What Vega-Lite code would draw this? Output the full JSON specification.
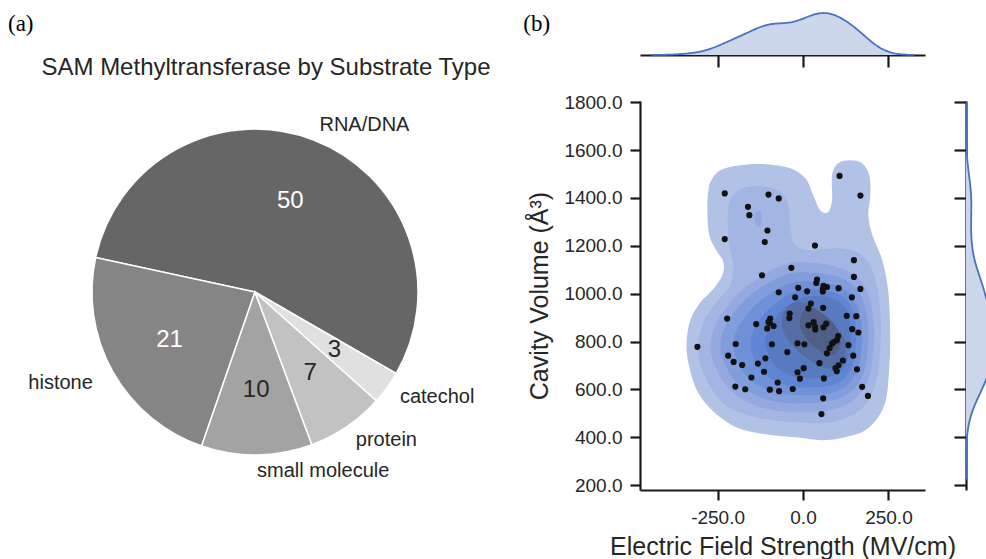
{
  "$schema": "https://vega.github.io/schema/vega-lite/v6.json",
  "background": "white",
  "padding": {"left": 8, "top": 9, "right": 0, "bottom": 0},
  "config": {
    "view": {"stroke": null},
    "font": "Liberation Sans",
    "axis": {"grid": false, "domainColor": "#1a1a1a", "domainWidth": 2.2, "tickColor": "#1a1a1a", "tickWidth": 2.2, "labelColor": "#262626", "titleColor": "#262626", "labelFont": "Liberation Sans", "titleFont": "Liberation Sans", "titleFontWeight": "normal", "labelFontSize": 19, "titleFontSize": 25},
    "title": {"font": "Liberation Sans", "fontWeight": "normal", "color": "#262626"}
  },
  "datasets": {
    "pie": [
      {"substrate": "RNA/DNA", "count": 50},
      {"substrate": "histone", "count": 21},
      {"substrate": "small molecule", "count": 10},
      {"substrate": "protein", "count": 7},
      {"substrate": "catechol", "count": 3}
    ],
    "pts": [
      {"efs": -229, "vol": 1419}, {"efs": -101, "vol": 1414}, {"efs": -71, "vol": 1398}, {"efs": -161, "vol": 1363},
      {"efs": -157, "vol": 1328}, {"efs": 107, "vol": 1492}, {"efs": 168, "vol": 1410}, {"efs": -104, "vol": 1264},
      {"efs": -229, "vol": 1228}, {"efs": -112, "vol": 1216}, {"efs": 35, "vol": 1201}, {"efs": 149, "vol": 1140},
      {"efs": -34, "vol": 1108}, {"efs": -120, "vol": 1077}, {"efs": 149, "vol": 1070}, {"efs": 41, "vol": 1059},
      {"efs": 39, "vol": 1045}, {"efs": 168, "vol": 1020}, {"efs": -14, "vol": 1025}, {"efs": 60, "vol": 1033},
      {"efs": 70, "vol": 1028}, {"efs": 58, "vol": 1009}, {"efs": 104, "vol": 1023}, {"efs": 12, "vol": 1010},
      {"efs": -71, "vol": 1006}, {"efs": -23, "vol": 985}, {"efs": 143, "vol": 985}, {"efs": 23, "vol": 959},
      {"efs": 16, "vol": 938}, {"efs": 59, "vol": 941}, {"efs": -39, "vol": 917}, {"efs": -40, "vol": 898},
      {"efs": 128, "vol": 908}, {"efs": 156, "vol": 906}, {"efs": -222, "vol": 896}, {"efs": -137, "vol": 873},
      {"efs": -96, "vol": 896}, {"efs": -101, "vol": 882}, {"efs": -86, "vol": 865}, {"efs": -105, "vol": 855},
      {"efs": 16, "vol": 868}, {"efs": 31, "vol": 881}, {"efs": 36, "vol": 850}, {"efs": 60, "vol": 860},
      {"efs": 68, "vol": 875}, {"efs": 144, "vol": 852}, {"efs": 162, "vol": 838}, {"efs": 103, "vol": 823},
      {"efs": 99, "vol": 806}, {"efs": 85, "vol": 792}, {"efs": 78, "vol": 773}, {"efs": 70, "vol": 751},
      {"efs": -309, "vol": 778}, {"efs": -197, "vol": 790}, {"efs": -91, "vol": 789}, {"efs": -16, "vol": 793},
      {"efs": 4, "vol": 789}, {"efs": 133, "vol": 785}, {"efs": 147, "vol": 741}, {"efs": -46, "vol": 756},
      {"efs": -219, "vol": 741}, {"efs": -203, "vol": 715}, {"efs": -178, "vol": 702}, {"efs": -110, "vol": 730},
      {"efs": -132, "vol": 708}, {"efs": 48, "vol": 710}, {"efs": 117, "vol": 721}, {"efs": 104, "vol": 701},
      {"efs": 95, "vol": 689}, {"efs": 99, "vol": 676}, {"efs": 2, "vol": 689}, {"efs": -16, "vol": 672},
      {"efs": -9, "vol": 645}, {"efs": -114, "vol": 674}, {"efs": -151, "vol": 650}, {"efs": 158, "vol": 684},
      {"efs": 61, "vol": 646}, {"efs": -74, "vol": 629}, {"efs": -198, "vol": 612}, {"efs": -169, "vol": 601},
      {"efs": -97, "vol": 599}, {"efs": -70, "vol": 593}, {"efs": -30, "vol": 602}, {"efs": 173, "vol": 611},
      {"efs": 190, "vol": 573}, {"efs": 59, "vol": 563}, {"efs": 54, "vol": 497}, {"efs": -97, "vol": 878},
      {"efs": 35, "vol": 862}, {"efs": 90, "vol": 798}, {"efs": 58, "vol": 1020}
    ],
    "contours": [
      {"level": "L1", "part": "a", "i": 1, "efs": -268, "vol": 1474}, {"level": "L1", "part": "a", "i": 2, "efs": -242, "vol": 1516},
      {"level": "L1", "part": "a", "i": 3, "efs": -183, "vol": 1537}, {"level": "L1", "part": "a", "i": 4, "efs": -110, "vol": 1541},
      {"level": "L1", "part": "a", "i": 5, "efs": -37, "vol": 1524}, {"level": "L1", "part": "a", "i": 6, "efs": 7, "vol": 1482},
      {"level": "L1", "part": "a", "i": 7, "efs": 30, "vol": 1411}, {"level": "L1", "part": "a", "i": 8, "efs": 50, "vol": 1349},
      {"level": "L1", "part": "a", "i": 9, "efs": 73, "vol": 1340}, {"level": "L1", "part": "a", "i": 10, "efs": 85, "vol": 1391},
      {"level": "L1", "part": "a", "i": 11, "efs": 85, "vol": 1495}, {"level": "L1", "part": "a", "i": 12, "efs": 103, "vol": 1545},
      {"level": "L1", "part": "a", "i": 13, "efs": 138, "vol": 1558}, {"level": "L1", "part": "a", "i": 14, "efs": 173, "vol": 1545},
      {"level": "L1", "part": "a", "i": 15, "efs": 194, "vol": 1495}, {"level": "L1", "part": "a", "i": 16, "efs": 197, "vol": 1411},
      {"level": "L1", "part": "a", "i": 17, "efs": 191, "vol": 1328}, {"level": "L1", "part": "a", "i": 18, "efs": 203, "vol": 1244},
      {"level": "L1", "part": "a", "i": 19, "efs": 232, "vol": 1140}, {"level": "L1", "part": "a", "i": 20, "efs": 249, "vol": 1015},
      {"level": "L1", "part": "a", "i": 21, "efs": 255, "vol": 847}, {"level": "L1", "part": "a", "i": 22, "efs": 252, "vol": 680},
      {"level": "L1", "part": "a", "i": 23, "efs": 238, "vol": 534}, {"level": "L1", "part": "a", "i": 24, "efs": 191, "vol": 438},
      {"level": "L1", "part": "a", "i": 25, "efs": 123, "vol": 400}, {"level": "L1", "part": "a", "i": 26, "efs": 56, "vol": 388},
      {"level": "L1", "part": "a", "i": 27, "efs": -22, "vol": 400}, {"level": "L1", "part": "a", "i": 28, "efs": -110, "vol": 413},
      {"level": "L1", "part": "a", "i": 29, "efs": -189, "vol": 438}, {"level": "L1", "part": "a", "i": 30, "efs": -257, "vol": 501},
      {"level": "L1", "part": "a", "i": 31, "efs": -306, "vol": 584}, {"level": "L1", "part": "a", "i": 32, "efs": -332, "vol": 689},
      {"level": "L1", "part": "a", "i": 33, "efs": -341, "vol": 785}, {"level": "L1", "part": "a", "i": 34, "efs": -330, "vol": 889},
      {"level": "L1", "part": "a", "i": 35, "efs": -300, "vol": 964}, {"level": "L1", "part": "a", "i": 36, "efs": -265, "vol": 1015},
      {"level": "L1", "part": "a", "i": 37, "efs": -236, "vol": 1077}, {"level": "L1", "part": "a", "i": 38, "efs": -233, "vol": 1132},
      {"level": "L1", "part": "a", "i": 39, "efs": -254, "vol": 1182}, {"level": "L1", "part": "a", "i": 40, "efs": -274, "vol": 1244},
      {"level": "L1", "part": "a", "i": 41, "efs": -280, "vol": 1349}, {"level": "L1", "part": "a", "i": 42, "efs": -277, "vol": 1432},
      {"level": "L2", "part": "b", "i": 1, "efs": -218, "vol": 1370}, {"level": "L2", "part": "b", "i": 2, "efs": -189, "vol": 1432},
      {"level": "L2", "part": "b", "i": 3, "efs": -134, "vol": 1449}, {"level": "L2", "part": "b", "i": 4, "efs": -72, "vol": 1432},
      {"level": "L2", "part": "b", "i": 5, "efs": -43, "vol": 1370}, {"level": "L2", "part": "b", "i": 6, "efs": -37, "vol": 1274},
      {"level": "L2", "part": "b", "i": 7, "efs": -22, "vol": 1202}, {"level": "L2", "part": "b", "i": 8, "efs": 21, "vol": 1182},
      {"level": "L2", "part": "b", "i": 9, "efs": 109, "vol": 1190}, {"level": "L2", "part": "b", "i": 10, "efs": 173, "vol": 1161},
      {"level": "L2", "part": "b", "i": 11, "efs": 208, "vol": 1077}, {"level": "L2", "part": "b", "i": 12, "efs": 226, "vol": 931},
      {"level": "L2", "part": "b", "i": 13, "efs": 226, "vol": 764}, {"level": "L2", "part": "b", "i": 14, "efs": 211, "vol": 618},
      {"level": "L2", "part": "b", "i": 15, "efs": 167, "vol": 513}, {"level": "L2", "part": "b", "i": 16, "efs": 80, "vol": 463},
      {"level": "L2", "part": "b", "i": 17, "efs": -22, "vol": 463}, {"level": "L2", "part": "b", "i": 18, "efs": -125, "vol": 480},
      {"level": "L2", "part": "b", "i": 19, "efs": -213, "vol": 521}, {"level": "L2", "part": "b", "i": 20, "efs": -265, "vol": 597},
      {"level": "L2", "part": "b", "i": 21, "efs": -300, "vol": 701}, {"level": "L2", "part": "b", "i": 22, "efs": -306, "vol": 793},
      {"level": "L2", "part": "b", "i": 23, "efs": -286, "vol": 898}, {"level": "L2", "part": "b", "i": 24, "efs": -248, "vol": 973},
      {"level": "L2", "part": "b", "i": 25, "efs": -213, "vol": 1035}, {"level": "L2", "part": "b", "i": 26, "efs": -204, "vol": 1119},
      {"level": "L2", "part": "b", "i": 27, "efs": -218, "vol": 1223},
      {"level": "L3", "part": "c", "i": 1, "efs": -9, "vol": 1131}, {"level": "L3", "part": "c", "i": 2, "efs": 100, "vol": 1112},
      {"level": "L3", "part": "c", "i": 3, "efs": 172, "vol": 1050}, {"level": "L3", "part": "c", "i": 4, "efs": 205, "vol": 912},
      {"level": "L3", "part": "c", "i": 5, "efs": 205, "vol": 743}, {"level": "L3", "part": "c", "i": 6, "efs": 181, "vol": 611},
      {"level": "L3", "part": "c", "i": 7, "efs": 119, "vol": 530}, {"level": "L3", "part": "c", "i": 8, "efs": 15, "vol": 505},
      {"level": "L3", "part": "c", "i": 9, "efs": -104, "vol": 518}, {"level": "L3", "part": "c", "i": 10, "efs": -200, "vol": 580},
      {"level": "L3", "part": "c", "i": 11, "efs": -252, "vol": 680}, {"level": "L3", "part": "c", "i": 12, "efs": -271, "vol": 787},
      {"level": "L3", "part": "c", "i": 13, "efs": -247, "vol": 893}, {"level": "L3", "part": "c", "i": 14, "efs": -195, "vol": 993},
      {"level": "L3", "part": "c", "i": 15, "efs": -128, "vol": 1068}, {"level": "L3", "part": "c", "i": 16, "efs": -71, "vol": 1112},
      {"level": "L3", "part": "d", "i": 1, "efs": -140, "vol": 1340}, {"level": "L3", "part": "d", "i": 2, "efs": -125, "vol": 1345},
      {"level": "L3", "part": "d", "i": 3, "efs": -119, "vol": 1315}, {"level": "L3", "part": "d", "i": 4, "efs": -125, "vol": 1282},
      {"level": "L3", "part": "d", "i": 5, "efs": -137, "vol": 1286}, {"level": "L3", "part": "d", "i": 6, "efs": -142, "vol": 1315},
      {"level": "L4", "part": "e", "i": 1, "efs": -5, "vol": 1090}, {"level": "L4", "part": "e", "i": 2, "efs": 93, "vol": 1074},
      {"level": "L4", "part": "e", "i": 3, "efs": 158, "vol": 1019}, {"level": "L4", "part": "e", "i": 4, "efs": 188, "vol": 898},
      {"level": "L4", "part": "e", "i": 5, "efs": 188, "vol": 750}, {"level": "L4", "part": "e", "i": 6, "efs": 167, "vol": 635},
      {"level": "L4", "part": "e", "i": 7, "efs": 111, "vol": 564}, {"level": "L4", "part": "e", "i": 8, "efs": 16, "vol": 542},
      {"level": "L4", "part": "e", "i": 9, "efs": -92, "vol": 553}, {"level": "L4", "part": "e", "i": 10, "efs": -178, "vol": 608},
      {"level": "L4", "part": "e", "i": 11, "efs": -225, "vol": 695}, {"level": "L4", "part": "e", "i": 12, "efs": -242, "vol": 789},
      {"level": "L4", "part": "e", "i": 13, "efs": -221, "vol": 882}, {"level": "L4", "part": "e", "i": 14, "efs": -173, "vol": 969},
      {"level": "L4", "part": "e", "i": 15, "efs": -113, "vol": 1035}, {"level": "L4", "part": "e", "i": 16, "efs": -61, "vol": 1074},
      {"level": "L5", "part": "f", "i": 1, "efs": 2, "vol": 1052}, {"level": "L5", "part": "f", "i": 2, "efs": 88, "vol": 1038},
      {"level": "L5", "part": "f", "i": 3, "efs": 144, "vol": 990}, {"level": "L5", "part": "f", "i": 4, "efs": 170, "vol": 885},
      {"level": "L5", "part": "f", "i": 5, "efs": 170, "vol": 757}, {"level": "L5", "part": "f", "i": 6, "efs": 151, "vol": 657},
      {"level": "L5", "part": "f", "i": 7, "efs": 103, "vol": 595}, {"level": "L5", "part": "f", "i": 8, "efs": 20, "vol": 576},
      {"level": "L5", "part": "f", "i": 9, "efs": -73, "vol": 586}, {"level": "L5", "part": "f", "i": 10, "efs": -148, "vol": 633},
      {"level": "L5", "part": "f", "i": 11, "efs": -189, "vol": 709}, {"level": "L5", "part": "f", "i": 12, "efs": -204, "vol": 790},
      {"level": "L5", "part": "f", "i": 13, "efs": -185, "vol": 871}, {"level": "L5", "part": "f", "i": 14, "efs": -144, "vol": 947},
      {"level": "L5", "part": "f", "i": 15, "efs": -92, "vol": 1004}, {"level": "L5", "part": "f", "i": 16, "efs": -47, "vol": 1038},
      {"level": "L6", "part": "g", "i": 1, "efs": 15, "vol": 1019}, {"level": "L6", "part": "g", "i": 2, "efs": 86, "vol": 1007},
      {"level": "L6", "part": "g", "i": 3, "efs": 132, "vol": 966}, {"level": "L6", "part": "g", "i": 4, "efs": 153, "vol": 876},
      {"level": "L6", "part": "g", "i": 5, "efs": 153, "vol": 765}, {"level": "L6", "part": "g", "i": 6, "efs": 138, "vol": 679},
      {"level": "L6", "part": "g", "i": 7, "efs": 98, "vol": 625}, {"level": "L6", "part": "g", "i": 8, "efs": 30, "vol": 609},
      {"level": "L6", "part": "g", "i": 9, "efs": -47, "vol": 617}, {"level": "L6", "part": "g", "i": 10, "efs": -108, "vol": 658},
      {"level": "L6", "part": "g", "i": 11, "efs": -142, "vol": 724}, {"level": "L6", "part": "g", "i": 12, "efs": -154, "vol": 794},
      {"level": "L6", "part": "g", "i": 13, "efs": -139, "vol": 863}, {"level": "L6", "part": "g", "i": 14, "efs": -105, "vol": 929},
      {"level": "L6", "part": "g", "i": 15, "efs": -62, "vol": 978}, {"level": "L6", "part": "g", "i": 16, "efs": -25, "vol": 1007},
      {"level": "L7", "part": "h", "i": 1, "efs": 26, "vol": 990}, {"level": "L7", "part": "h", "i": 2, "efs": 83, "vol": 980},
      {"level": "L7", "part": "h", "i": 3, "efs": 121, "vol": 945}, {"level": "L7", "part": "h", "i": 4, "efs": 138, "vol": 870},
      {"level": "L7", "part": "h", "i": 5, "efs": 138, "vol": 777}, {"level": "L7", "part": "h", "i": 6, "efs": 126, "vol": 705},
      {"level": "L7", "part": "h", "i": 7, "efs": 93, "vol": 661}, {"level": "L7", "part": "h", "i": 8, "efs": 39, "vol": 647},
      {"level": "L7", "part": "h", "i": 9, "efs": -23, "vol": 654}, {"level": "L7", "part": "h", "i": 10, "efs": -73, "vol": 688},
      {"level": "L7", "part": "h", "i": 11, "efs": -100, "vol": 743}, {"level": "L7", "part": "h", "i": 12, "efs": -110, "vol": 801},
      {"level": "L7", "part": "h", "i": 13, "efs": -98, "vol": 860}, {"level": "L7", "part": "h", "i": 14, "efs": -70, "vol": 915},
      {"level": "L7", "part": "h", "i": 15, "efs": -36, "vol": 956}, {"level": "L7", "part": "h", "i": 16, "efs": -6, "vol": 980},
      {"level": "L8", "part": "i", "i": 1, "efs": -14, "vol": 964}, {"level": "L8", "part": "i", "i": 2, "efs": 32, "vol": 942},
      {"level": "L8", "part": "i", "i": 3, "efs": 86, "vol": 882}, {"level": "L8", "part": "i", "i": 4, "efs": 123, "vol": 799},
      {"level": "L8", "part": "i", "i": 5, "efs": 114, "vol": 717}, {"level": "L8", "part": "i", "i": 6, "efs": 77, "vol": 689},
      {"level": "L8", "part": "i", "i": 7, "efs": 32, "vol": 711}, {"level": "L8", "part": "i", "i": 8, "efs": -23, "vol": 772},
      {"level": "L8", "part": "i", "i": 9, "efs": -60, "vol": 854}, {"level": "L8", "part": "i", "i": 10, "efs": -51, "vol": 937},
      {"level": "L9", "part": "j", "i": 1, "efs": 21, "vol": 939}, {"level": "L9", "part": "j", "i": 2, "efs": 51, "vol": 923},
      {"level": "L9", "part": "j", "i": 3, "efs": 86, "vol": 880}, {"level": "L9", "part": "j", "i": 4, "efs": 109, "vol": 821},
      {"level": "L9", "part": "j", "i": 5, "efs": 103, "vol": 763}, {"level": "L9", "part": "j", "i": 6, "efs": 80, "vol": 743},
      {"level": "L9", "part": "j", "i": 7, "efs": 51, "vol": 759}, {"level": "L9", "part": "j", "i": 8, "efs": 15, "vol": 802},
      {"level": "L9", "part": "j", "i": 9, "efs": -8, "vol": 861}, {"level": "L9", "part": "j", "i": 10, "efs": -2, "vol": 919}
    ]
  },
  "spacing": 21,
  "resolve": {"scale": {"color": "independent", "x": "independent", "y": "independent"}},
  "hconcat": [
    {
      "title": {"text": "(a)", "anchor": "start", "frame": "group", "font": "Liberation Serif", "fontSize": 23, "fontWeight": "normal", "color": "#000000", "offset": -23},
      "vconcat": [
        {
          "width": 494,
          "height": 558,
          "title": {"text": "SAM Methyltransferase by Substrate Type", "anchor": "middle", "fontSize": 24, "fontWeight": "normal", "color": "#262626", "offset": -67, "dx": 11},
          "data": {"name": "pie"},
          "encoding": {
            "theta": {"field": "count", "type": "quantitative", "stack": true, "scale": {"range": [2.0944, 8.3776]}},
            "order": {"field": "count", "type": "quantitative", "sort": "ascending"}
          },
          "layer": [
            {
              "mark": {"type": "arc", "outerRadius": 163, "stroke": "white", "strokeWidth": 1.5},
              "encoding": {
                "color": {"field": "substrate", "type": "nominal", "scale": {"domain": ["RNA/DNA", "histone", "small molecule", "protein", "catechol"], "range": ["#666666", "#858585", "#a3a3a3", "#c2c2c2", "#e0e0e0"]}, "legend": null}
              }
            },
            {
              "mark": {"type": "text", "radius": 98, "fontSize": 24, "align": "center", "baseline": "middle"},
              "encoding": {
                "text": {"field": "count", "type": "quantitative"},
                "color": {"condition": {"test": "datum.count >= 20", "value": "#ffffff"}, "value": "#262626"}
              }
            },
            {
              "mark": {"type": "text", "radius": 179, "fontSize": 20, "align": "left", "baseline": "middle", "color": "#262626"},
              "encoding": {
                "text": {"condition": {"test": "datum.substrate !== 'histone'", "field": "substrate", "type": "nominal"}, "value": ""}
              }
            },
            {
              "mark": {"type": "text", "radius": 186, "fontSize": 20, "align": "right", "baseline": "middle", "color": "#262626"},
              "encoding": {
                "text": {"condition": {"test": "datum.substrate === 'histone'", "field": "substrate", "type": "nominal"}, "value": ""}
              }
            }
          ]
        }
      ]
    },
    {
      "spacing": 46,
      "bounds": "flush",
      "resolve": {"scale": {"x": "independent", "y": "independent"}},
      "vconcat": [
        {
          "width": 285,
          "height": 42,
          "title": {"text": "(b)", "orient": "left", "anchor": "end", "angle": 0, "align": "right", "baseline": "top", "frame": "group", "font": "Liberation Serif", "fontSize": 23, "fontWeight": "normal", "color": "#000000", "offset": 63},
          "data": {"name": "pts"},
          "transform": [{"density": "efs", "bandwidth": 50, "extent": [-443, 325], "steps": 200}],
          "encoding": {
            "x": {"field": "value", "type": "quantitative", "scale": {"domain": [-477, 357], "nice": false, "zero": false}, "axis": {"values": [-250, 0, 250], "labels": false, "tickSize": 12, "title": null}},
            "y": {"field": "density", "type": "quantitative", "scale": {"nice": false, "zero": true}, "axis": null}
          },
          "layer": [
            {"mark": {"type": "area", "color": "#cdd7ec"}},
            {"mark": {"type": "line", "color": "#4a72c0", "strokeWidth": 1.8}}
          ]
        },
        {
          "spacing": 41,
          "bounds": "flush",
          "resolve": {"scale": {"x": "independent", "y": "independent"}},
          "hconcat": [
            {
              "width": 285,
              "height": 389,
              "layer": [
                {
                  "data": {"name": "contours"},
                  "mark": {"type": "line", "filled": true, "interpolate": "cardinal-closed", "strokeWidth": 0},
                  "encoding": {
                    "x": {"field": "efs", "type": "quantitative", "scale": {"domain": [-477, 357], "nice": false, "zero": false},
                      "axis": {"values": [-250, 0, 250], "labelExpr": "replace(format(datum.value, '.1f'), '\u2212', '-')", "tickSize": 10, "labelPadding": 8, "title": "Electric Field Strength (MV/cm)", "titlePadding": 7}},
                    "y": {"field": "vol", "type": "quantitative", "scale": {"domain": [180, 1805], "nice": false, "zero": false},
                      "axis": {"values": [200, 400, 600, 800, 1000, 1200, 1400, 1600, 1800], "format": ".1f", "tickSize": 10, "labelPadding": 8, "title": "Cavity Volume (Å³)", "titlePadding": 11}},
                    "color": {"field": "level", "type": "nominal", "scale": {"domain": ["L1", "L2", "L3", "L4", "L5", "L6", "L7", "L8", "L9"], "range": ["#b2c2e6", "#a3b5e3", "#93a9e0", "#829ddc", "#7090d8", "#6085d3", "#587ac0", "#546da5", "#4f5f87"]}, "legend": null},
                    "detail": {"field": "part", "type": "nominal"},
                    "order": {"field": "i", "type": "quantitative"}
                  }
                },
                {
                  "data": {"name": "pts"},
                  "mark": {"type": "circle", "size": 38, "color": "#111111", "opacity": 1},
                  "encoding": {
                    "x": {"field": "efs", "type": "quantitative"},
                    "y": {"field": "vol", "type": "quantitative"}
                  }
                }
              ]
            },
            {
              "width": 21,
              "height": 389,
              "data": {"name": "pts"},
              "transform": [{"density": "vol", "bandwidth": 85, "extent": [224, 1805], "steps": 200}],
              "encoding": {
                "y": {"field": "value", "type": "quantitative", "scale": {"domain": [180, 1805], "nice": false, "zero": false}, "axis": {"values": [200, 400, 600, 800, 1000, 1200, 1400, 1600, 1800], "labels": false, "tickSize": 12, "title": null}},
                "x": {"field": "density", "type": "quantitative", "scale": {"domain": [0, 0.0014], "nice": false}, "axis": null}
              },
              "layer": [
                {"mark": {"type": "area", "orient": "horizontal", "clip": true, "color": "#cdd7ec"}},
                {"mark": {"type": "line", "clip": true, "color": "#4a72c0", "strokeWidth": 1.8}, "encoding": {"order": {"field": "value", "type": "quantitative"}}}
              ]
            }
          ]
        }
      ]
    }
  ]
}
